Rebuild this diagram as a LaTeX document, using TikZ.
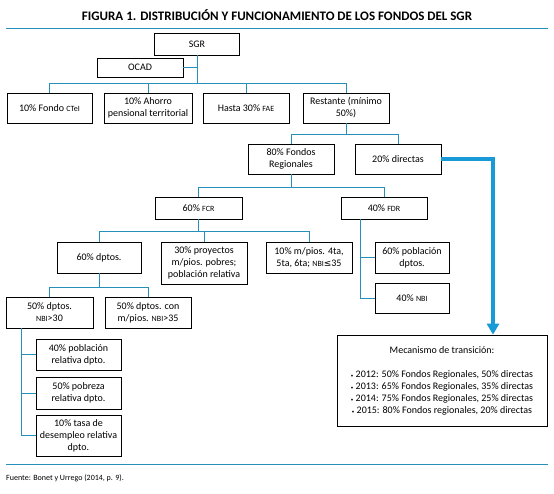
\documentclass[tikz,border=0pt]{standalone}
\usepackage{fontspec}
\setmainfont{Carlito}
\newfontfamily\simbolo{DejaVu Sans}
\usetikzlibrary{arrows.meta}
\definecolor{conector}{RGB}{38,143,186}
\definecolor{flechaazul}{RGB}{24,154,214}
\newcommand{\sig}[1]{{\footnotesize #1}}

\begin{document}
\begin{tikzpicture}[x=1pt,y=-1pt,every node/.style={font=\normalsize},
    caja/.style={draw=black, line width=0.7pt, align=center, inner sep=1pt,
      minimum width=86pt, minimum height=30pt},
    linea/.style={draw=conector, line width=0.8pt},
    regla/.style={draw=conector, line width=1pt},
    flecha/.style={draw=flechaazul, line width=4pt,
      -{Triangle[length=11pt,width=12pt]}}]
  \useasboundingbox (0,0) rectangle (554,494);

  % titulo y reglas
  \node[font=\fontsize{13}{15}\selectfont\bfseries] (titulo) at (277,15)
    {FIGURA 1. DISTRIBUCIÓN Y FUNCIONAMIENTO DE LOS FONDOS DEL SGR};
  \coordinate (reglaAi) at (6,29);
  \coordinate (reglaAd) at (548,29);
  \draw[regla] (reglaAi) -- (reglaAd);
  \coordinate (reglaBi) at (6,464);
  \coordinate (reglaBd) at (548,464);
  \draw[regla] (reglaBi) -- (reglaBd);
  \node[anchor=west, font=\footnotesize, inner sep=0pt] (fuente) at (6,478)
    {Fuente: Bonet y Urrego (2014, p. 9).};

  % nivel 1
  \node[caja, minimum width=85pt, minimum height=22pt] (sgr) at (197,44) {SGR};
  \node[caja, minimum height=19pt] (ocad) at (140,67.5) {OCAD};
  \node[caja, minimum width=85pt] (ctei) at (49.5,108) {10\% Fondo \sig{CTeI}};
  \node[caja, minimum width=88pt] (ahorro) at (148,108)
    {10\% Ahorro\\pensional territorial};
  \node[caja] (fae) at (246,108) {Hasta 30\% \sig{FAE}};
  \node[caja] (restante) at (346,108) {Restante (mínimo\\50\%)};

  % nivel 2
  \node[caja] (regionales) at (291,159) {80\% Fondos\\Regionales};
  \node[caja] (directas) at (398,159) {20\% directas};
  \node[caja, minimum width=87pt, minimum height=22pt] (fcr) at (198.5,208)
    {60\% \sig{FCR}};
  \node[caja, minimum height=22pt] (fdr) at (384,208) {40\% \sig{FDR}};

  % nivel 3
  \node[caja, minimum width=84pt, minimum height=31pt] (dptos) at (99,257.5)
    {60\% dptos.};
  \node[caja, minimum height=42pt] (proyectos) at (204,263)
    {30\% proyectos\\m/pios. pobres;\\población relativa};
  \node[caja, minimum height=31pt] (mpios) at (309,257.5)
    {10\% m/pios. 4ta,\\5ta, 6ta; \sig{NBI}{\simbolo\small ≤}35};
  \node[caja, minimum width=74pt, minimum height=31pt] (pobdptos) at (412,257.5)
    {60\% población\\dptos.};
  \node[caja, minimum width=74pt] (nbicuarenta) at (412,298) {40\% \sig{NBI}};

  % nivel 4
  \node[caja, minimum width=87pt, minimum height=31pt] (nbitreinta) at (49.5,312.5)
    {50\% dptos.\\\sig{NBI}>30};
  \node[caja, minimum height=31pt] (nbitreintaycinco) at (148,312.5)
    {50\% dptos. con\\m/pios. \sig{NBI}>35};
  \node[caja, minimum width=85pt, minimum height=31pt] (pobrel) at (78.5,354.5)
    {40\% población\\relativa dpto.};
  \node[caja, minimum width=85pt, minimum height=32pt] (pobreza) at (78.5,393)
    {50\% pobreza\\relativa dpto.};
  \node[caja, minimum width=85pt, minimum height=41pt] (desempleo) at (78.5,435.5)
    {10\% tasa de\\desempleo relativa\\dpto.};

  % mecanismo de transicion
  \node[caja, minimum width=210pt, minimum height=91pt] (mecanismo) at (442,380.5)
    {Mecanismo de transición:\\[12pt]
     {\tiny\textbullet} 2012: 50\% Fondos Regionales, 50\% directas\\
     {\tiny\textbullet} 2013: 65\% Fondos Regionales, 35\% directas\\
     {\tiny\textbullet} 2014: 75\% Fondos Regionales, 25\% directas\\
     {\tiny\textbullet} 2015: 80\% Fondos regionales, 20\% directas};

  % conectores
  \draw[linea] (ocad.east) -- (ocad.east -| sgr.south);
  \draw[linea] (sgr.south) -- ++(0,28) coordinate (busA);
  \foreach \n in {ctei,ahorro,fae,restante}
    \draw[linea] (busA) -| (\n.north);
  \draw[linea] (restante.south) -- ++(0,11) coordinate (busB);
  \foreach \n in {regionales,directas}
    \draw[linea] (busB) -| (\n.north);
  \draw[linea] (regionales.south) -- ++(0,13) coordinate (busC);
  \foreach \n in {fcr,fdr}
    \draw[linea] (busC) -| (\n.north);
  \draw[linea] (fcr.south) -- ++(0,12) coordinate (busD);
  \foreach \n in {dptos,proyectos,mpios}
    \draw[linea] (busD) -| (\n.north);
  \draw[linea] (dptos.south) -- ++(0,14) coordinate (busE);
  \foreach \n in {nbitreinta,nbitreintaycinco}
    \draw[linea] (busE) -| (\n.north);
  \foreach \n in {pobdptos,nbicuarenta}
    \draw[linea] ([xshift=20pt]fdr.south west) |- (\n.west);
  \foreach \n in {pobrel,pobreza,desempleo}
    \draw[linea] ([xshift=16pt]nbitreinta.south west) |- (\n.west);

  % flecha azul
  \coordinate (codo) at (493,159);
  \draw[flecha] (directas.east) -- (codo) -- (codo |- mecanismo.north);
\end{tikzpicture}
\end{document}
